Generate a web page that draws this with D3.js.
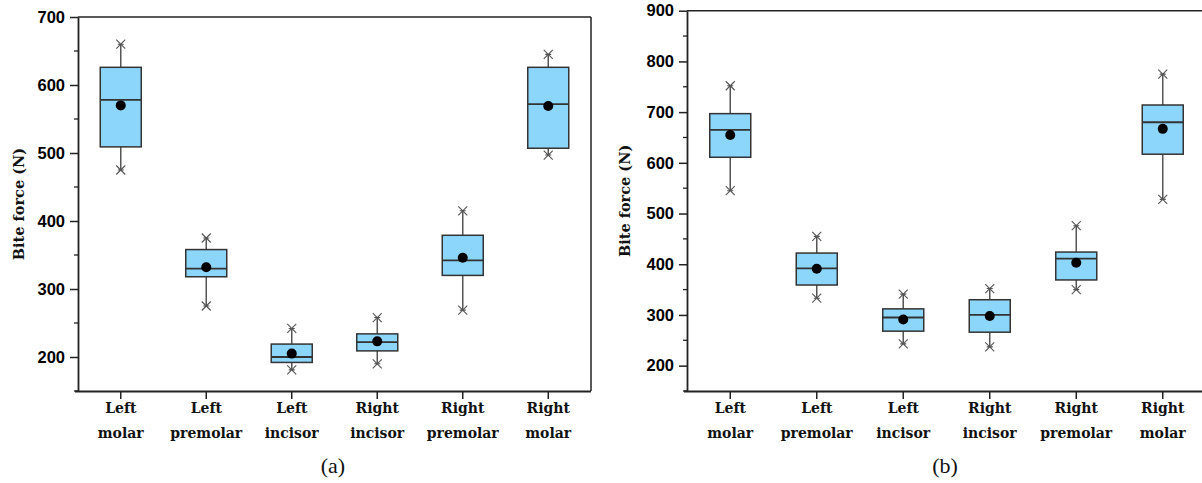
<!DOCTYPE html>
<html>
<head>
<meta charset="utf-8">
<script src="https://cdn.jsdelivr.net/npm/d3@7"></script>
<style>
  body { margin: 0; background: #fff; }
  svg { display: block; }
</style>
</head>
<body>
<svg class="chart"></svg>
<script>
var width = 1202,
    height = 483;

var categories = [["Left", "molar"], ["Left", "premolar"], ["Left", "incisor"],
                  ["Right", "incisor"], ["Right", "premolar"], ["Right", "molar"]];

// panel (a)
var aMax  = [660, 375, 242, 258, 415, 645];
var aQ3   = [626, 358, 219, 234, 379, 626];
var aMed  = [578, 330, 200, 222, 342, 572];
var aQ1   = [509, 318, 192, 209, 320, 507];
var aMin  = [475, 275, 181, 190, 269, 497];
var aMean = [570, 332, 205, 223, 346, 569];

// panel (b)
var bMax  = [752, 455, 341, 352, 476, 775];
var bQ3   = [697, 422, 312, 330, 424, 714];
var bMed  = [665, 392, 295, 300, 411, 680];
var bQ1   = [611, 359, 268, 266, 369, 617];
var bMin  = [545, 333, 243, 237, 350, 528];
var bMean = [655, 391, 291, 298, 403, 667];

var yTicksA = [200, 300, 400, 500, 600, 700];
var yTicksB = [200, 300, 400, 500, 600, 700, 800, 900];

var chart = d3.select(".chart")
    .attr("width", width)
    .attr("height", height);

function panel(o) {
  var x = d3.scaleBand()
      .domain(d3.range(categories.length))
      .range([o.left, o.right]);
  var y = d3.scaleLinear()
      .domain(o.domain)
      .range([391, o.top]);

  var g = chart.append("g");
  var rows = d3.range(categories.length).map(function(i) {
    return {i: i, min: o.min[i], q1: o.q1[i], med: o.med[i], q3: o.q3[i], max: o.max[i], mean: o.mean[i]};
  });

  // frame
  g.append("line").attr("x1", o.left).attr("x2", o.frameRight)
      .attr("y1", o.top).attr("y2", o.top)
      .attr("stroke", "#222").attr("stroke-width", 1.5);
  if (o.closed) {
    g.append("line").attr("x1", o.frameRight).attr("x2", o.frameRight)
        .attr("y1", o.top).attr("y2", 391)
        .attr("stroke", "#222").attr("stroke-width", 1.5);
  }

  // minor ticks
  var minor = d3.range(o.domain[0], o.domain[1] + 1, 50).filter(function(v) { return v % 100 != 0; });
  g.selectAll(".minor").data(minor).enter().append("line")
      .attr("x1", o.left - 4).attr("x2", o.left)
      .attr("y1", function(d) { return y(d); }).attr("y2", function(d) { return y(d); })
      .attr("stroke", "#222").attr("stroke-width", 1.3);

  var ya = g.append("g")
      .attr("transform", "translate(" + o.left + ",0)")
      .call(d3.axisLeft(y).tickValues(o.ticks).tickSize(8).tickPadding(5).tickSizeOuter(0));
  ya.select(".domain").attr("stroke", "#222").attr("stroke-width", 1.8);
  ya.selectAll(".tick line").attr("stroke", "#222").attr("stroke-width", 1.5);
  ya.selectAll(".tick text")
      .attr("fill", "#000")
      .style("font-family", "'Liberation Sans', Arial, sans-serif")
      .style("font-weight", "bold")
      .style("font-size", "16.5px");

  var xa = g.append("g")
      .attr("transform", "translate(0,391)")
      .call(d3.axisBottom(x).tickSize(8).tickSizeOuter(0).tickFormat(""));
  xa.select(".domain").attr("stroke", "#222").attr("stroke-width", 1.8)
      .attr("d", "M" + (o.left - 3) + ",0.5H" + o.frameRight);
  xa.selectAll(".tick line").attr("stroke", "#222").attr("stroke-width", 1.5);

  // category labels
  var lab = g.selectAll(".cat").data(categories).enter().append("text")
      .attr("x", function(d, i) { return x(i) + x.bandwidth() / 2; })
      .attr("text-anchor", "middle")
      .attr("fill", "#111")
      .style("font-family", "'DejaVu Serif', serif")
      .style("font-weight", "bold")
      .style("font-size", "14px");
  lab.append("tspan").attr("x", function(d, i) { return x(i) + x.bandwidth() / 2; })
      .attr("y", 413).text(function(d) { return d[0]; });
  lab.append("tspan").attr("x", function(d, i) { return x(i) + x.bandwidth() / 2; })
      .attr("y", 438).text(function(d) { return d[1]; });

  // y title
  g.append("text")
      .attr("transform", "translate(" + o.titleX + "," + ((o.top + 391) / 2) + ") rotate(-90)")
      .attr("text-anchor", "middle")
      .attr("fill", "#111")
      .style("font-family", "'DejaVu Serif', serif")
      .style("font-weight", "bold")
      .style("font-size", "14.5px")
      .text("Bite force (N)");

  var bw = 41;
  var box = g.selectAll(".box").data(rows).enter().append("g")
      .attr("transform", function(d) { return "translate(" + (x(d.i) + x.bandwidth() / 2) + ",0)"; });

  box.append("line")
      .attr("y1", function(d) { return y(d.min); })
      .attr("y2", function(d) { return y(d.max); })
      .attr("stroke", "#555").attr("stroke-width", 1.5);

  box.append("rect")
      .attr("x", -bw / 2)
      .attr("width", bw)
      .attr("y", function(d) { return y(d.q3); })
      .attr("height", function(d) { return y(d.q1) - y(d.q3); })
      .attr("fill", "#8dd6fb")
      .attr("stroke", "#333").attr("stroke-width", 1.5);

  box.append("line")
      .attr("x1", -bw / 2).attr("x2", bw / 2)
      .attr("y1", function(d) { return y(d.med); })
      .attr("y2", function(d) { return y(d.med); })
      .attr("stroke", "#333").attr("stroke-width", 1.8);

  // whisker end markers (asterisk style)
  ["min", "max"].forEach(function(k) {
    var s = 4.5;
    box.append("path")
        .attr("d", function(d) {
          var cy = y(d[k]);
          return "M" + (-s) + "," + (cy - s) + "L" + s + "," + (cy + s) +
                 "M" + (-s) + "," + (cy + s) + "L" + s + "," + (cy - s) +
                 "M" + (-3) + "," + cy + "L3," + cy;
        })
        .attr("stroke", "#555").attr("stroke-width", 1.1).attr("fill", "none");
  });

  box.append("circle")
      .attr("cy", function(d) { return y(d.mean); })
      .attr("r", 5)
      .attr("fill", "#000");

  chart.append("text")
      .attr("x", o.captionX).attr("y", 473)
      .attr("text-anchor", "middle")
      .attr("fill", "#111")
      .style("font-family", "'Liberation Serif', 'Times New Roman', serif")
      .style("font-size", "22px")
      .text(o.caption);
}

panel({left: 78, right: 591, frameRight: 591, closed: true, top: 17, domain: [150, 700],
       ticks: yTicksA, titleX: 24, captionX: 333, caption: "(a)",
       min: aMin, q1: aQ1, med: aMed, q3: aQ3, max: aMax, mean: aMean});

panel({left: 687, right: 1206, frameRight: 1202, closed: false, top: 10.7, domain: [150, 900],
       ticks: yTicksB, titleX: 630, captionX: 945, caption: "(b)",
       min: bMin, q1: bQ1, med: bMed, q3: bQ3, max: bMax, mean: bMean});
</script>
</body>
</html>
